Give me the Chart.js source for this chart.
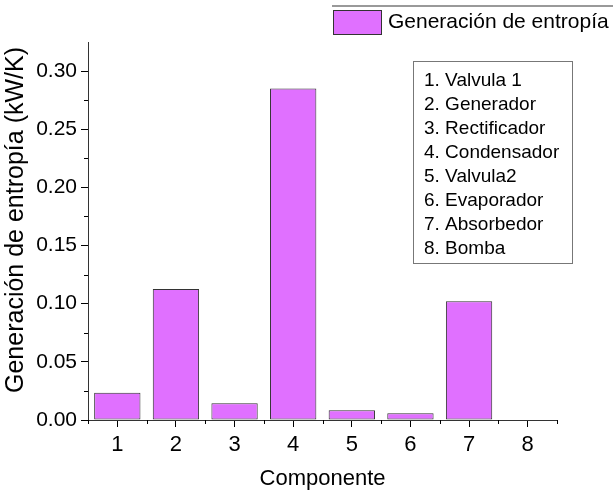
<!DOCTYPE html>
<html lang="es">
<head>
    <meta charset="UTF-8">
    <title>Generación de entropía</title>
    <script src="https://cdn.jsdelivr.net/npm/chart.js"></script>
    <style>
        body {
            margin: 0;
            background: #fff;
        }
        canvas {
            display: block;
        }
    </style>
</head>
<body>
    <canvas id="chart" width="613" height="492"></canvas>

    <script>
        // datos
        const componentes = ['1', '2', '3', '4', '5', '6', '7', '8'];
        const entropia = [0.0235, 0.1127, 0.0144, 0.2850, 0.0083, 0.0058, 0.1020, 0.0];
        const nombres = ['1. Valvula 1', '2. Generador', '3. Rectificador', '4. Condensador',
                         '5. Valvula2', '6. Evaporador', '7. Absorbedor', '8. Bomba'];
        const serieLabel = 'Generación de entropía';
        const yTitulo = 'Generación de entropía (kW/K)';
        const xTitulo = 'Componente';

        const fuente = '"Liberation Sans", Arial, sans-serif';
        const colorBarra = '#e070ff';
        const bordeBarra = '#333';

        Chart.defaults.color = '#000';
        Chart.defaults.font.family = fuente;

        // ticks menores, leyenda, cuadro de nombres y titulo Y
        const extras = {
            id: 'extras',
            afterDraw(chart) {
                const ctx = chart.ctx;
                const x = chart.scales.x;
                const y = chart.scales.y;
                ctx.save();
                ctx.strokeStyle = '#000';
                ctx.lineWidth = 1;

                // ticks menores eje Y
                for (let v = 0.025; v < 0.3; v += 0.05) {
                    const py = Math.round(y.getPixelForValue(v)) + 0.5;
                    ctx.beginPath();
                    ctx.moveTo(x.left - 4, py);
                    ctx.lineTo(x.left, py);
                    ctx.stroke();
                }
                // ticks menores eje X (entre categorias)
                for (let i = 0; i <= componentes.length; i++) {
                    const px = Math.round(x.getPixelForValue(i - 0.5)) + 0.5;
                    ctx.beginPath();
                    ctx.moveTo(px, y.bottom);
                    ctx.lineTo(px, y.bottom + 4);
                    ctx.stroke();
                }

                // leyenda superior
                ctx.strokeStyle = '#777';
                ctx.lineWidth = 1.5;
                ctx.beginPath();
                ctx.moveTo(332, 6);
                ctx.lineTo(613, 6);
                ctx.stroke();
                ctx.fillStyle = colorBarra;
                ctx.fillRect(333.5, 10.5, 48, 24);
                ctx.strokeStyle = bordeBarra;
                ctx.lineWidth = 1;
                ctx.strokeRect(333.5, 10.5, 48, 24);
                ctx.fillStyle = '#000';
                ctx.font = '21px ' + fuente;
                ctx.textAlign = 'left';
                ctx.textBaseline = 'middle';
                ctx.fillText(serieLabel, 388, 22);

                // cuadro con nombres de componentes
                ctx.strokeStyle = '#777';
                ctx.strokeRect(413.5, 61.5, 159, 202);
                ctx.font = '19px ' + fuente;
                nombres.forEach((n, i) => {
                    ctx.fillText(n, 424, 81 + i * 24);
                });

                // titulo eje Y
                ctx.font = '25px ' + fuente;
                ctx.translate(16, 220);
                ctx.rotate(-Math.PI / 2);
                ctx.textAlign = 'center';
                ctx.fillText(yTitulo, 0, 0);
                ctx.restore();
            }
        };

        new Chart(document.getElementById('chart'), {
            type: 'bar',
            data: {
                labels: componentes,
                datasets: [{
                    label: serieLabel,
                    data: entropia,
                    backgroundColor: colorBarra,
                    borderColor: bordeBarra,
                    borderWidth: 1,
                    borderSkipped: false,
                    barPercentage: 0.79,
                    categoryPercentage: 1.0
                }]
            },
            options: {
                responsive: false,
                animation: false,
                devicePixelRatio: 1,
                layout: {
                    padding: { top: 42, right: 56, left: 0, bottom: 0 }
                },
                plugins: {
                    legend: { display: false },
                    tooltip: { enabled: false }
                },
                scales: {
                    x: {
                        offset: true,
                        grid: {
                            offset: false,
                            drawOnChartArea: false,
                            drawTicks: true,
                            tickLength: 7,
                            color: '#000'
                        },
                        border: { display: true, color: '#333', width: 1 },
                        ticks: {
                            font: { size: 22 },
                            padding: 5,
                            maxRotation: 0
                        },
                        title: {
                            display: true,
                            text: xTitulo,
                            font: { size: 22 },
                            padding: { top: 0, bottom: 0 }
                        },
                        afterFit(scale) {
                            scale.height = 72;
                        }
                    },
                    y: {
                        min: 0,
                        max: 0.325,
                        grid: {
                            drawOnChartArea: false,
                            drawTicks: true,
                            tickLength: 7,
                            color: '#000'
                        },
                        border: { display: true, color: '#333', width: 1 },
                        ticks: {
                            stepSize: 0.05,
                            font: { size: 21 },
                            padding: 4,
                            callback: v => v.toFixed(2)
                        },
                        afterBuildTicks(scale) {
                            scale.ticks = scale.ticks.filter(t => t.value <= 0.3001);
                        },
                        afterFit(scale) {
                            scale.width = 88;
                        }
                    }
                }
            },
            plugins: [extras]
        });
    </script>
</body>
</html>
